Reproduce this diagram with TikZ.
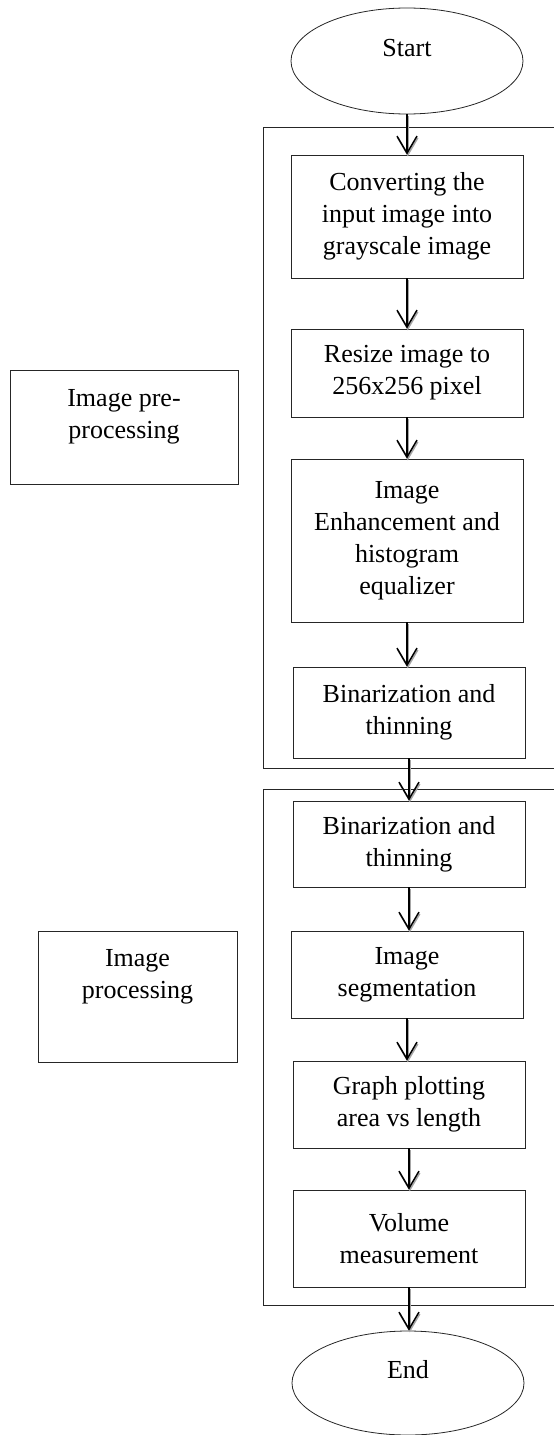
\documentclass[tikz,border=0pt]{standalone}
\usepackage{fontspec}
\setmainfont{Liberation Serif}
\usetikzlibrary{shapes.geometric,arrows.meta}
\begin{document}
\begin{tikzpicture}[x=1pt,y=-1pt,
  txt/.style={font=\fontsize{26}{32}\selectfont, align=center},
  box/.style={draw=black!85, line width=0.8pt, rectangle, minimum width=232pt, inner sep=0pt, txt},
  oval/.style={draw=black!85, line width=0.8pt, ellipse, minimum width=232pt, minimum height=106pt, inner sep=0pt},
  frame/.style={draw=black!85, line width=0.8pt},
  flow/.style={line width=1.5pt, -{Straight Barb[length=17pt,width=20pt,line width=1.5pt]},
    preaction={draw=black!35, line width=1.5pt, transform canvas={shift={(0.8pt,-1.8pt)}}}},
  every label/.style={txt, inner sep=0pt}]
\useasboundingbox (0,0) rectangle (554,1435);
\clip (0,0) rectangle (554,1435);

% group frames
\draw[frame] (570,127) -| (263,768) -- (570,768);
\draw[frame] (570,789) -| (263,1305) -- (570,1305);

% terminals
\node[oval, label={[yshift=13pt]center:Start}] (start) at (407,61) {};
\node[oval, minimum height=104pt, label={[yshift=13pt]center:End}] (end) at (408,1383) {};

% steps
\node[box, minimum height=123pt] (b1) at (407,216.5) {Converting the\\input image into\\grayscale image};
\node[box, minimum height=88pt] (b2) at (407,373) {Resize image to\\256x256 pixel};
\node[box, minimum height=163pt] (b3) at (407,540.5) {\raisebox{9pt}{\parbox{230pt}{\centering Image\\Enhancement and\\histogram\\equalizer}}};
\node[box, minimum height=91pt] (b4) at (409,712.5) {Binarization and\\thinning};
\node[box, minimum height=86pt] (b5) at (409,844) {Binarization and\\thinning};
\node[box, minimum height=87pt] (b6) at (407,974.5) {Image\\segmentation};
\node[box, minimum height=87pt] (b7) at (409,1104.5) {Graph plotting\\area vs length};
\node[box, minimum height=97pt] (b8) at (409,1238.5) {\raisebox{4pt}{\parbox{230pt}{\centering Volume\\measurement}}};

% phase labels
\node[box, minimum width=228pt, minimum height=114pt,
  label={[anchor=north, yshift=-20pt]north:{Image pre-\\processing}}] (pre) at (124,427) {};
\node[box, minimum width=199pt, minimum height=131pt,
  label={[anchor=north, yshift=-19pt]north:{Image\\processing}}] (proc) at (137.5,996.5) {};

% connectors
\draw[flow] (start.south) -- (start.south |- b1.north);
\draw[flow] (b1.south) -- (b1.south |- b2.north);
\draw[flow] (b2.south) -- (b2.south |- b3.north);
\draw[flow] (b3.south) -- (b3.south |- b4.north);
\draw[flow] (b4.south) -- (b4.south |- b5.north);
\draw[flow] (b5.south) -- (b5.south |- b6.north);
\draw[flow] (b6.south) -- (b6.south |- b7.north);
\draw[flow] (b7.south) -- (b7.south |- b8.north);
\draw[flow] (b8.south) -- (b8.south |- end.north);
\end{tikzpicture}
\end{document}
